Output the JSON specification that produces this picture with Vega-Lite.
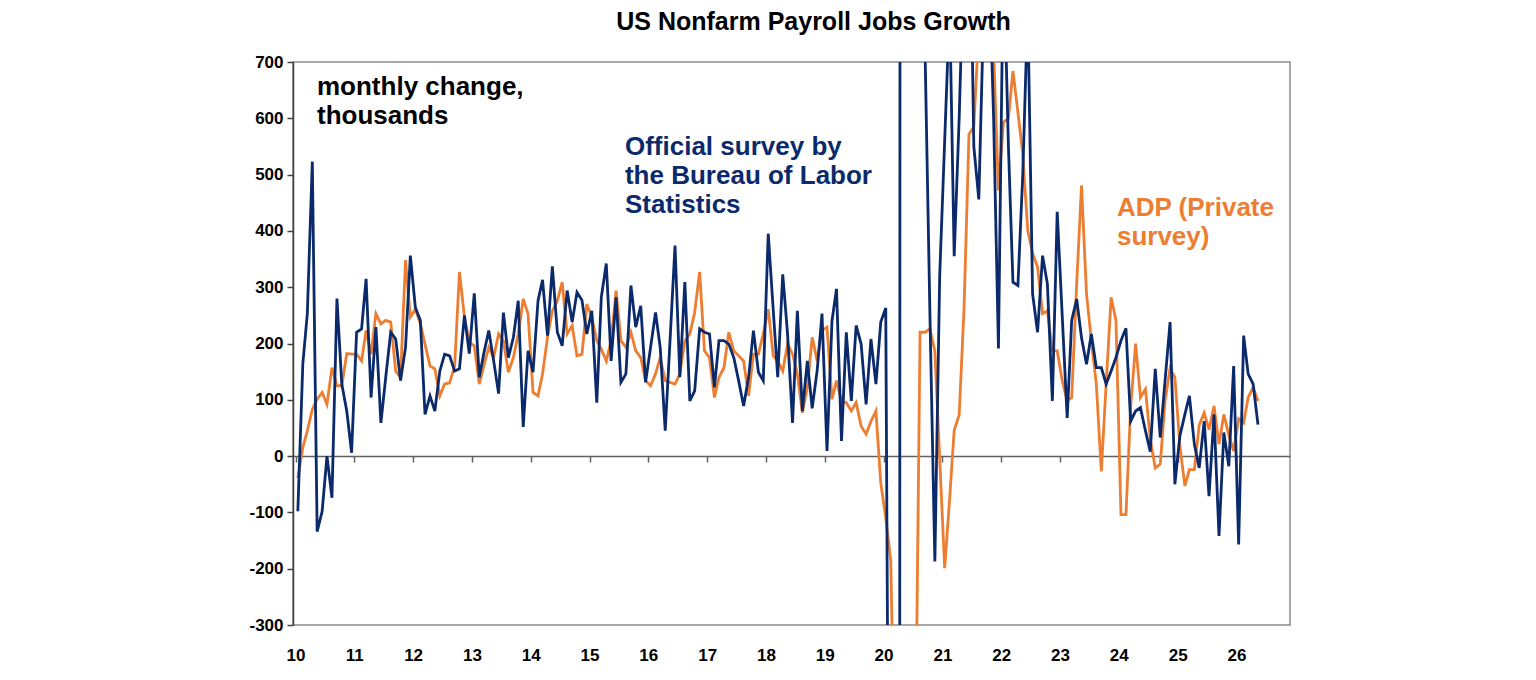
{
  "$schema": "https://vega.github.io/schema/vega-lite/v6.json",
  "width": 997,
  "height": 563,
  "autosize": {"type": "none"},
  "padding": {"left": 293, "top": 62, "right": 246, "bottom": 55},
  "background": "#ffffff",
  "config": {
    "view": {"stroke": "#8a8a8a", "strokeWidth": 1.5},
    "font": "Liberation Sans"
  },
  "title": {"text": "US Nonfarm Payroll Jobs Growth", "font": "Liberation Sans", "fontSize": 25, "fontWeight": "bold", "color": "#000000", "frame": "group", "anchor": "middle", "dx": 22, "offset": 18},
  "datasets": {
    "payrolls": [
      {"date":"2010-01-15","BLS":-98,"ADP":-39},{"date":"2010-02-15","BLS":164,"ADP":15},{"date":"2010-03-15","BLS":253,"ADP":45},{"date":"2010-04-15","BLS":523,"ADP":83},{"date":"2010-05-15","BLS":-134,"ADP":101},{"date":"2010-06-15","BLS":-98,"ADP":113},{"date":"2010-07-15","BLS":0,"ADP":92},{"date":"2010-08-15","BLS":-74,"ADP":157},{"date":"2010-09-15","BLS":280,"ADP":125},{"date":"2010-10-15","BLS":128,"ADP":125},{"date":"2010-11-15","BLS":80,"ADP":182},{"date":"2010-12-15","BLS":6,"ADP":181},
      {"date":"2011-01-15","BLS":220,"ADP":181},{"date":"2011-02-15","BLS":226,"ADP":169},{"date":"2011-03-15","BLS":315,"ADP":223},{"date":"2011-04-15","BLS":104,"ADP":181},{"date":"2011-05-15","BLS":229,"ADP":253},{"date":"2011-06-15","BLS":59,"ADP":235},{"date":"2011-07-15","BLS":140,"ADP":241},{"date":"2011-08-15","BLS":220,"ADP":238},{"date":"2011-09-15","BLS":208,"ADP":151},{"date":"2011-10-15","BLS":134,"ADP":140},{"date":"2011-11-15","BLS":193,"ADP":348},{"date":"2011-12-15","BLS":356,"ADP":247},
      {"date":"2012-01-15","BLS":264,"ADP":261},{"date":"2012-02-15","BLS":241,"ADP":235},{"date":"2012-03-15","BLS":74,"ADP":199},{"date":"2012-04-15","BLS":107,"ADP":160},{"date":"2012-05-15","BLS":80,"ADP":155},{"date":"2012-06-15","BLS":151,"ADP":107},{"date":"2012-07-15","BLS":181,"ADP":128},{"date":"2012-08-15","BLS":178,"ADP":130},{"date":"2012-09-15","BLS":151,"ADP":160},{"date":"2012-10-15","BLS":155,"ADP":327},{"date":"2012-11-15","BLS":250,"ADP":247},{"date":"2012-12-15","BLS":182,"ADP":202},
      {"date":"2013-01-15","BLS":289,"ADP":196},{"date":"2013-02-15","BLS":140,"ADP":128},{"date":"2013-03-15","BLS":182,"ADP":160},{"date":"2013-04-15","BLS":223,"ADP":193},{"date":"2013-05-15","BLS":170,"ADP":175},{"date":"2013-06-15","BLS":111,"ADP":217},{"date":"2013-07-15","BLS":255,"ADP":205},{"date":"2013-08-15","BLS":175,"ADP":149},{"date":"2013-09-15","BLS":211,"ADP":175},{"date":"2013-10-15","BLS":276,"ADP":217},{"date":"2013-11-15","BLS":52,"ADP":279},{"date":"2013-12-15","BLS":187,"ADP":253},
      {"date":"2014-01-15","BLS":149,"ADP":113},{"date":"2014-02-15","BLS":276,"ADP":107},{"date":"2014-03-15","BLS":313,"ADP":146},{"date":"2014-04-15","BLS":214,"ADP":211},{"date":"2014-05-15","BLS":337,"ADP":258},{"date":"2014-06-15","BLS":220,"ADP":276},{"date":"2014-07-15","BLS":196,"ADP":309},{"date":"2014-08-15","BLS":294,"ADP":217},{"date":"2014-09-15","BLS":238,"ADP":232},{"date":"2014-10-15","BLS":291,"ADP":178},{"date":"2014-11-15","BLS":277,"ADP":181},{"date":"2014-12-15","BLS":217,"ADP":270},
      {"date":"2015-01-15","BLS":258,"ADP":247},{"date":"2015-02-15","BLS":95,"ADP":205},{"date":"2015-03-15","BLS":282,"ADP":190},{"date":"2015-04-15","BLS":342,"ADP":169},{"date":"2015-05-15","BLS":169,"ADP":205},{"date":"2015-06-15","BLS":282,"ADP":294},{"date":"2015-07-15","BLS":131,"ADP":205},{"date":"2015-08-15","BLS":146,"ADP":193},{"date":"2015-09-15","BLS":303,"ADP":220},{"date":"2015-10-15","BLS":229,"ADP":187},{"date":"2015-11-15","BLS":267,"ADP":175},{"date":"2015-12-15","BLS":131,"ADP":134},
      {"date":"2016-01-15","BLS":193,"ADP":125},{"date":"2016-02-15","BLS":255,"ADP":146},{"date":"2016-03-15","BLS":193,"ADP":175},{"date":"2016-04-15","BLS":45,"ADP":134},{"date":"2016-05-15","BLS":205,"ADP":131},{"date":"2016-06-15","BLS":374,"ADP":128},{"date":"2016-07-15","BLS":140,"ADP":146},{"date":"2016-08-15","BLS":309,"ADP":205},{"date":"2016-09-15","BLS":98,"ADP":217},{"date":"2016-10-15","BLS":116,"ADP":255},{"date":"2016-11-15","BLS":226,"ADP":327},{"date":"2016-12-15","BLS":220,"ADP":187},
      {"date":"2017-01-15","BLS":217,"ADP":175},{"date":"2017-02-15","BLS":122,"ADP":104},{"date":"2017-03-15","BLS":205,"ADP":140},{"date":"2017-04-15","BLS":205,"ADP":157},{"date":"2017-05-15","BLS":199,"ADP":220},{"date":"2017-06-15","BLS":175,"ADP":187},{"date":"2017-07-15","BLS":134,"ADP":178},{"date":"2017-08-15","BLS":89,"ADP":169},{"date":"2017-09-15","BLS":140,"ADP":107},{"date":"2017-10-15","BLS":223,"ADP":181},{"date":"2017-11-15","BLS":149,"ADP":181},{"date":"2017-12-15","BLS":134,"ADP":217},
      {"date":"2018-01-15","BLS":395,"ADP":261},{"date":"2018-02-15","BLS":260,"ADP":178},{"date":"2018-03-15","BLS":140,"ADP":169},{"date":"2018-04-15","BLS":323,"ADP":151},{"date":"2018-05-15","BLS":217,"ADP":199},{"date":"2018-06-15","BLS":59,"ADP":181},{"date":"2018-07-15","BLS":258,"ADP":146},{"date":"2018-08-15","BLS":80,"ADP":77},{"date":"2018-09-15","BLS":169,"ADP":122},{"date":"2018-10-15","BLS":85,"ADP":211},{"date":"2018-11-15","BLS":152,"ADP":169},{"date":"2018-12-15","BLS":253,"ADP":223},
      {"date":"2019-01-15","BLS":9,"ADP":229},{"date":"2019-02-15","BLS":240,"ADP":101},{"date":"2019-03-15","BLS":297,"ADP":134},{"date":"2019-04-15","BLS":27,"ADP":98},{"date":"2019-05-15","BLS":220,"ADP":95},{"date":"2019-06-15","BLS":98,"ADP":80},{"date":"2019-07-15","BLS":232,"ADP":95},{"date":"2019-08-15","BLS":199,"ADP":53},{"date":"2019-09-15","BLS":92,"ADP":39},{"date":"2019-10-15","BLS":208,"ADP":62},{"date":"2019-11-15","BLS":128,"ADP":80},{"date":"2019-12-15","BLS":238,"ADP":-48},
      {"date":"2020-01-15","BLS":263,"ADP":-110},{"date":"2020-02-15","BLS":-1400,"ADP":-185},{"date":"2020-03-15","BLS":-20500,"ADP":-620},{"date":"2020-04-15","BLS":2800,"ADP":-19500},{"date":"2020-05-15","BLS":4600,"ADP":-3000},{"date":"2020-06-15","BLS":1700,"ADP":-1500},{"date":"2020-07-15","BLS":1500,"ADP":-600},{"date":"2020-08-15","BLS":900,"ADP":220},{"date":"2020-09-15","BLS":720,"ADP":220},{"date":"2020-10-15","BLS":257,"ADP":226},{"date":"2020-11-15","BLS":-187,"ADP":187},{"date":"2020-12-15","BLS":320,"ADP":-5},
      {"date":"2021-01-15","BLS":560,"ADP":-199},{"date":"2021-02-15","BLS":800,"ADP":-75},{"date":"2021-03-15","BLS":355,"ADP":46},{"date":"2021-04-15","BLS":600,"ADP":73},{"date":"2021-05-15","BLS":900,"ADP":260},{"date":"2021-06-15","BLS":1100,"ADP":572},{"date":"2021-07-15","BLS":550,"ADP":585},{"date":"2021-08-15","BLS":456,"ADP":760},{"date":"2021-09-15","BLS":800,"ADP":820},{"date":"2021-10-15","BLS":900,"ADP":780},{"date":"2021-11-15","BLS":600,"ADP":720},{"date":"2021-12-15","BLS":191,"ADP":472},
      {"date":"2022-01-15","BLS":900,"ADP":593},{"date":"2022-02-15","BLS":550,"ADP":600},{"date":"2022-03-15","BLS":309,"ADP":684},{"date":"2022-04-15","BLS":303,"ADP":610},{"date":"2022-05-15","BLS":500,"ADP":537},{"date":"2022-06-15","BLS":800,"ADP":401},{"date":"2022-07-15","BLS":288,"ADP":360},{"date":"2022-08-15","BLS":220,"ADP":336},{"date":"2022-09-15","BLS":356,"ADP":253},{"date":"2022-10-15","BLS":306,"ADP":258},{"date":"2022-11-15","BLS":98,"ADP":187},{"date":"2022-12-15","BLS":434,"ADP":187},
      {"date":"2023-01-15","BLS":250,"ADP":134},{"date":"2023-02-15","BLS":68,"ADP":98},{"date":"2023-03-15","BLS":241,"ADP":104},{"date":"2023-04-15","BLS":279,"ADP":306},{"date":"2023-05-15","BLS":210,"ADP":481},{"date":"2023-06-15","BLS":163,"ADP":288},{"date":"2023-07-15","BLS":217,"ADP":205},{"date":"2023-08-15","BLS":157,"ADP":128},{"date":"2023-09-15","BLS":157,"ADP":-27},{"date":"2023-10-15","BLS":128,"ADP":128},{"date":"2023-11-15","BLS":151,"ADP":282},{"date":"2023-12-15","BLS":175,"ADP":241},
      {"date":"2024-01-15","BLS":205,"ADP":-104},{"date":"2024-02-15","BLS":227,"ADP":-104},{"date":"2024-03-15","BLS":62,"ADP":85},{"date":"2024-04-15","BLS":80,"ADP":200},{"date":"2024-05-15","BLS":86,"ADP":104},{"date":"2024-06-15","BLS":45,"ADP":119},{"date":"2024-07-15","BLS":8,"ADP":30},{"date":"2024-08-15","BLS":155,"ADP":-21},{"date":"2024-09-15","BLS":33,"ADP":-14},{"date":"2024-10-15","BLS":134,"ADP":98},{"date":"2024-11-15","BLS":238,"ADP":156},{"date":"2024-12-15","BLS":-50,"ADP":140},
      {"date":"2025-01-15","BLS":36,"ADP":18},{"date":"2025-02-15","BLS":74,"ADP":-53},{"date":"2025-03-15","BLS":107,"ADP":-24},{"date":"2025-04-15","BLS":21,"ADP":-24},{"date":"2025-05-15","BLS":-21,"ADP":55},{"date":"2025-06-15","BLS":62,"ADP":77},{"date":"2025-07-15","BLS":-71,"ADP":47},{"date":"2025-08-15","BLS":74,"ADP":89},{"date":"2025-09-15","BLS":-142,"ADP":21},{"date":"2025-10-15","BLS":42,"ADP":74},{"date":"2025-11-15","BLS":-18,"ADP":37},{"date":"2025-12-15","BLS":160,"ADP":9},
      {"date":"2026-01-15","BLS":-157,"ADP":66},{"date":"2026-02-15","BLS":214,"ADP":59},{"date":"2026-03-15","BLS":146,"ADP":104},{"date":"2026-04-15","BLS":128,"ADP":122},{"date":"2026-05-15","BLS":56,"ADP":98}
    ],
    "notes": [
      {"date": "2010-05-14", "value": 656, "text": "monthly change,\nthousands", "kind": "note"},
      {"date": "2015-08-09", "value": 549, "text": "Official survey by\nthe Bureau of Labor\nStatistics", "kind": "BLS"},
      {"date": "2023-12-21", "value": 441, "text": "ADP (Private\nsurvey)", "kind": "ADP"}
    ]
  },
  "layer": [
    {
      "data": {"name": "payrolls"},
      "mark": {"type": "line", "color": "#ed7d31", "strokeWidth": 2.8, "clip": true},
      "encoding": {
        "x": {
          "field": "date", "type": "temporal", "title": null,
          "scale": {"domain": [{"year": 2009, "month": 12, "date": 16}, {"year": 2026, "month": 11, "date": 30}]},
          "axis": {"orient": "bottom", "format": "%y", "tickCount": {"interval": "year", "step": 1}, "domain": false, "ticks": false, "grid": false, "labelFont": "Liberation Sans", "labelFontSize": 17, "labelFontWeight": "bold", "labelColor": "#000000", "labelPadding": 22, "labelFlush": false, "labelOverlap": false}
        },
        "y": {
          "field": "ADP", "type": "quantitative", "title": null,
          "scale": {"domain": [-300, 700], "nice": false, "zero": false},
          "axis": {"orient": "left", "values": [-300, -200, -100, 0, 100, 200, 300, 400, 500, 600, 700], "labelExpr": "toString(datum.value)", "domain": true, "domainColor": "#404040", "domainWidth": 1.5, "ticks": true, "tickSize": 6, "tickColor": "#404040", "tickWidth": 1.5, "grid": false, "labelFont": "Liberation Sans", "labelFontSize": 17, "labelFontWeight": "bold", "labelColor": "#000000", "labelPadding": 4, "labelFlush": false}
        }
      }
    },
    {
      "data": {"name": "payrolls"},
      "mark": {"type": "line", "color": "#0b2a6b", "strokeWidth": 2.8, "clip": true},
      "encoding": {
        "x": {"field": "date", "type": "temporal", "title": null, "axis": null},
        "y": {"field": "BLS", "type": "quantitative", "title": null}
      }
    },
    {
      "data": {"name": "notes"},
      "mark": {"type": "text", "align": "left", "baseline": "middle", "font": "Liberation Sans", "fontSize": 26, "fontWeight": "bold", "lineBreak": "\n", "lineHeight": 29},
      "encoding": {
        "x": {
          "field": "date", "type": "temporal", "title": null,
          "axis": {"orient": "bottom", "offset": -169, "tickCount": {"interval": "year", "step": 1}, "labels": false, "domain": true, "domainColor": "#606060", "domainWidth": 1.5, "ticks": true, "tickSize": 6, "tickColor": "#606060", "tickWidth": 1.5, "grid": false}
        },
        "y": {"field": "value", "type": "quantitative", "title": null},
        "text": {"field": "text"},
        "color": {"field": "kind", "type": "nominal", "scale": {"domain": ["note", "BLS", "ADP"], "range": ["#000000", "#0b2a6b", "#ed7d31"]}, "legend": null}
      }
    }
  ],
  "resolve": {"axis": {"x": "independent"}}
}
